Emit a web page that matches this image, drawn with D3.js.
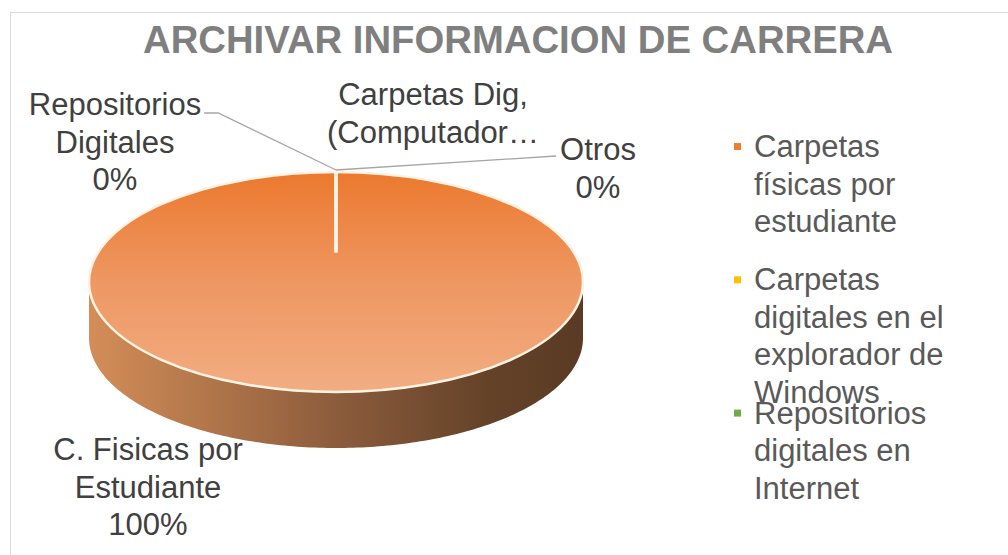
<!DOCTYPE html>
<html>
<head>
<meta charset="utf-8">
<script src="https://cdn.jsdelivr.net/npm/d3@7"></script>
<style>
  body { margin: 0; background: #fff; }
  svg { display: block; font-family: "Liberation Sans", Arial, sans-serif; }
</style>
</head>
<body>
<div id="chart"></div>
<script>
// ---- data ----
var categories = ["Carpetas físicas por estudiante",
                  "Carpetas digitales en el explorador de Windows",
                  "Repositorios digitales en Internet",
                  "Otros"];
var labelNames = [["C. Fisicas por", "Estudiante"],
                  ["Carpetas Dig,", "(Computador…"],
                  ["Repositorios", "Digitales"],
                  ["Otros"]];
var values = [100, 0, 0, 0];
var colors = ["#ED7D31", "#FFC000", "#70AD47", "#4472C4"];
var title = "ARCHIVAR INFORMACION DE CARRERA";

// ---- layout ----
var width = 1008, height = 555;
var cx = 336, cy = 282, rx = 247, ry = 110, depth = 56;
var centerY = cy - ry * 0.27;   // perspective: pie centre sits above the ellipse middle
var lineH = 37.5;

// where each data label sits (centre x, first baseline)
// the second label is cut off by Excel, so its percentage is not shown
var labelPos = [
  {x: 148, y: 460, leader: false, pct: true},
  {x: 433, y: 105, leader: false, pct: false},
  {x: 115, y: 115, leader: true, side: "right", pct: true},
  {x: 598, y: 160, leader: true, side: "left", pct: true}
];

var svg = d3.select("#chart").append("svg")
  .attr("width", width)
  .attr("height", height);

var defs = svg.append("defs");
var topGrad = defs.append("linearGradient").attr("id", "topGrad")
  .attr("x1", 0).attr("y1", 0).attr("x2", 0).attr("y2", 1);
topGrad.append("stop").attr("offset", "0%").attr("stop-color", "#EC792E");
topGrad.append("stop").attr("offset", "50%").attr("stop-color", "#EE9762");
topGrad.append("stop").attr("offset", "100%").attr("stop-color", "#F2AD82");

var sideGrad = defs.append("linearGradient").attr("id", "sideGrad")
  .attr("x1", 0).attr("y1", 0).attr("x2", 1).attr("y2", 0);
sideGrad.append("stop").attr("offset", "0%").attr("stop-color", "#D48D58");
sideGrad.append("stop").attr("offset", "20%").attr("stop-color", "#B77A4C");
sideGrad.append("stop").attr("offset", "50%").attr("stop-color", "#8C5C3C");
sideGrad.append("stop").attr("offset", "80%").attr("stop-color", "#654329");
sideGrad.append("stop").attr("offset", "100%").attr("stop-color", "#5A3A24");

// chart frame
svg.append("rect")
  .attr("x", 10.5).attr("y", 12.5)
  .attr("width", width + 10).attr("height", height + 10)
  .attr("fill", "none").attr("stroke", "#D9D9D9");

// title
svg.append("text")
  .attr("x", 518).attr("y", 53)
  .attr("text-anchor", "middle")
  .attr("font-size", "39px")
  .attr("font-weight", "bold")
  .attr("fill", "#7F7F7F")
  .attr("textLength", 750)
  .attr("lengthAdjust", "spacingAndGlyphs")
  .text(title);

// ---- pie ----
var pie = d3.pie().sort(null).startAngle(0).endAngle(2 * Math.PI);
var arcs = pie(values);
var total = d3.sum(values);
var pct = d3.format(".0%");

function pt(a, dy) {
  // angle measured clockwise from 12 o'clock, like d3.arc
  return [cx + rx * Math.sin(a), cy - ry * Math.cos(a) + (dy || 0)];
}

var line = d3.line();

// side (front half of the rim)
var sidePts = [];
d3.range(0, 181).forEach(function(i) {
  var a = Math.PI / 2 + Math.PI * i / 180;
  sidePts.push(pt(a, depth));
});
d3.range(180, -1, -1).forEach(function(i) {
  var a = Math.PI / 2 + Math.PI * i / 180;
  sidePts.push(pt(a, 0));
});
svg.append("path")
  .attr("d", line(sidePts) + "Z")
  .attr("fill", "url(#sideGrad)");

// top faces
arcs.forEach(function(d) {
  if (d.endAngle - d.startAngle <= 0) return;
  var n = Math.max(2, Math.ceil((d.endAngle - d.startAngle) * 60));
  var pts = [[cx, centerY]];
  d3.range(0, n + 1).forEach(function(i) {
    pts.push(pt(d.startAngle + (d.endAngle - d.startAngle) * i / n));
  });
  svg.append("path")
    .attr("d", line(pts) + "Z")
    .attr("fill", "url(#topGrad)");
});

// rim highlight round the top face
svg.append("ellipse")
  .attr("cx", cx).attr("cy", cy).attr("rx", rx).attr("ry", ry)
  .attr("fill", "none")
  .attr("stroke", "#FFF3E4")
  .attr("stroke-width", 2.5);

// slice borders (the zero slices collapse onto one white spoke)
arcs.forEach(function(d) {
  var e = pt(d.startAngle);
  svg.append("line")
    .attr("x1", cx).attr("y1", centerY)
    .attr("x2", e[0]).attr("y2", e[1])
    .attr("stroke", "#FFF3E4")
    .attr("stroke-width", 3);
});

// ---- data labels ----
arcs.forEach(function(d, i) {
  var p = labelPos[i];
  var lines = labelNames[i].slice();
  if (p.pct) lines.push(pct(values[i] / total));
  var t = svg.append("text")
    .attr("text-anchor", "middle")
    .attr("font-size", "31px")
    .attr("fill", "#404040");
  lines.forEach(function(s, k) {
    t.append("tspan").attr("x", p.x).attr("y", p.y + k * lineH).text(s);
  });
  if (p.leader) {
    var mid = (d.startAngle + d.endAngle) / 2;
    var edge = pt(mid);
    var w = t.node().firstChild.getComputedTextLength();
    var pts;
    if (p.side === "right") {
      var sx = p.x + w / 2 + 3;
      pts = [[sx, p.y - 2], [sx + 14, p.y - 2], [edge[0], edge[1] - 2]];
    } else {
      var lx = p.x - w / 2 - 4;
      pts = [[lx, p.y - 4], [edge[0], edge[1] - 2]];
    }
    svg.append("path")
      .attr("d", line(pts))
      .attr("fill", "none")
      .attr("stroke", "#A6A6A6")
      .attr("stroke-width", 1.3);
  }
});

// ---- legend ----
function wrap(str, maxW, size) {
  var tmp = svg.append("text").attr("font-size", size);
  var words = str.split(" "), out = [], cur = "";
  words.forEach(function(wd) {
    var test = cur ? cur + " " + wd : wd;
    tmp.text(test);
    if (tmp.node().getComputedTextLength() > maxW && cur) {
      out.push(cur);
      cur = wd;
    } else {
      cur = test;
    }
  });
  out.push(cur);
  tmp.remove();
  return out;
}

var legendX = 754, legendY = 157, slotH = 133.3;
var legend = svg.append("g");
categories.forEach(function(c, i) {
  var y0 = legendY + i * slotH;
  if (y0 > height) return;
  legend.append("rect")
    .attr("x", 734).attr("y", y0 - 14)
    .attr("width", 7).attr("height", 7)
    .attr("fill", colors[i]);
  var t = legend.append("text")
    .attr("font-size", "31px")
    .attr("fill", "#595959");
  wrap(c, 205, "31px").forEach(function(s, k) {
    t.append("tspan").attr("x", legendX).attr("y", y0 + k * lineH).text(s);
  });
});
</script>
</body>
</html>
